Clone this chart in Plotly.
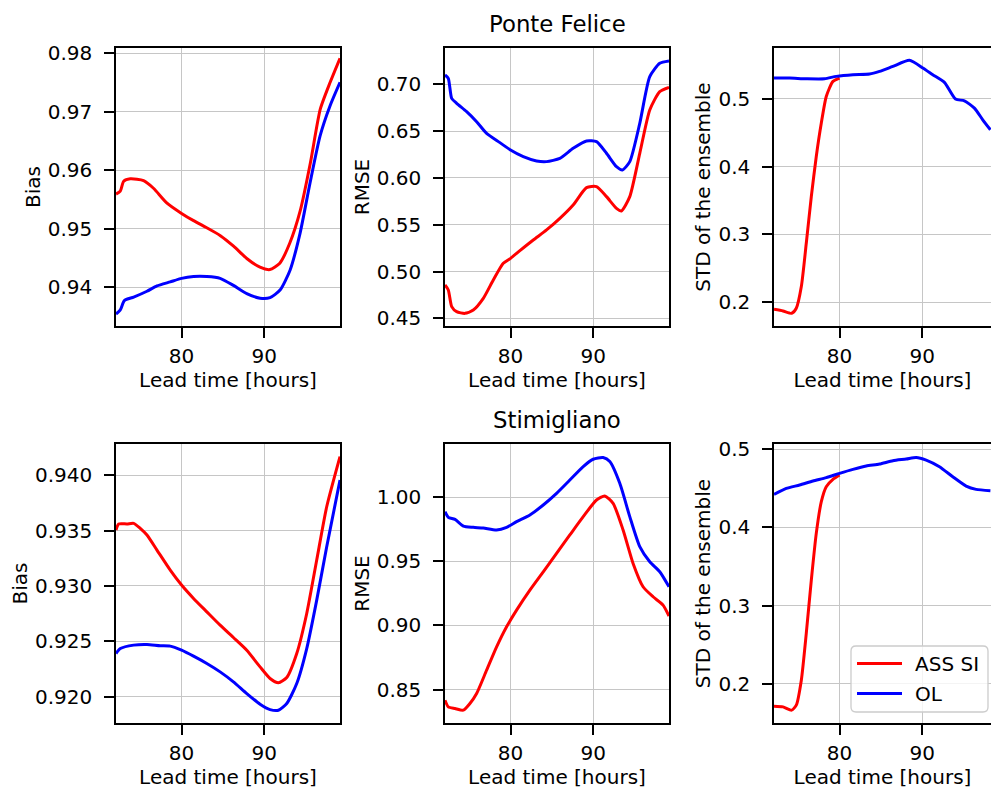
import plotly.graph_objects as go

# ---------------- data: lead time [hours] and scores ----------------
# Ponte Felice - Bias
pf_bias_ass_t = [72.06, 72.58, 72.99, 73.79, 75.4, 76.6, 78.2, 80.0, 81.4, 83.1, 84.7, 86.3,
                 87.9, 89.5, 90.7, 91.9, 93.1, 94.4, 95.6, 96.8, 98.0, 99.19]
pf_bias_ass = [0.9559, 0.9564, 0.9581, 0.9585, 0.9582, 0.9569, 0.9544, 0.9526, 0.9514, 0.9501,
               0.9488, 0.9470, 0.9449, 0.9434, 0.9430, 0.9441, 0.9475, 0.9532, 0.9612, 0.9704,
               0.9750, 0.9791]
pf_bias_ol_t = [72.06, 72.58, 73.07, 74.20, 75.81, 77.02, 78.63, 80.0, 81.45, 83.06, 84.67,
                86.28, 87.90, 89.51, 90.72, 91.93, 93.14, 94.35, 95.56, 96.77, 97.99, 99.19]
pf_bias_ol = [0.9354, 0.9361, 0.9377, 0.9383, 0.9393, 0.9402, 0.9409, 0.9415, 0.9418, 0.9418,
              0.9415, 0.9403, 0.9389, 0.9381, 0.9382, 0.9395, 0.9429, 0.9492, 0.9578, 0.9658,
              0.9710, 0.9750]

# Ponte Felice - RMSE
pf_rmse_ass_t = [72.06, 72.46, 72.87, 73.47, 74.48, 75.49, 76.70, 77.91, 79.12, 80.0, 81.13,
                 82.75, 84.36, 85.97, 87.58, 89.20, 90.41, 91.62, 92.83, 93.43, 94.44, 95.65,
                 96.86, 98.07, 99.19]
pf_rmse_ass = [0.4856, 0.4803, 0.4625, 0.4571, 0.4553, 0.4589, 0.4714, 0.4910, 0.5088, 0.5141,
               0.5223, 0.5337, 0.5444, 0.5568, 0.5711, 0.5896, 0.5907, 0.5800, 0.5675, 0.5647,
               0.5800, 0.6263, 0.6726, 0.6922, 0.6968]
pf_rmse_ol_t = [72.06, 72.46, 72.87, 73.47, 74.68, 75.89, 77.10, 78.71, 80.0, 81.54, 83.15,
                84.36, 85.97, 87.58, 89.20, 90.41, 91.62, 92.83, 93.55, 94.44, 95.65, 96.86,
                98.07, 99.19]
pf_rmse_ol = [0.7100, 0.7064, 0.6850, 0.6797, 0.6708, 0.6601, 0.6476, 0.6377, 0.6298, 0.6227,
              0.6181, 0.6174, 0.6209, 0.6316, 0.6395, 0.6387, 0.6263, 0.6120, 0.6085, 0.6174,
              0.6583, 0.7082, 0.7224, 0.7249]

# Ponte Felice - ensemble spread
pf_std_ass_t = [72.06, 73.15, 74.2, 74.76, 75.37, 75.97, 76.58, 77.18, 77.79, 78.39, 79.2, 80.0]
pf_std_ass = [0.1896, 0.1872, 0.1837, 0.1911, 0.2231, 0.2870, 0.3559, 0.4149, 0.4641, 0.5034,
              0.5256, 0.5305]
pf_std_ol_t = [72.06, 73.96, 75.97, 78.19, 79.6, 81.62, 83.63, 84.84, 86.46, 88.47, 90.08,
               91.29, 92.7, 94.04, 95.12, 96.33, 97.34, 98.27]
pf_std_ol = [0.5305, 0.5305, 0.5295, 0.5295, 0.5330, 0.5354, 0.5364, 0.5403, 0.5477, 0.5566,
             0.5453, 0.5354, 0.5241, 0.4995, 0.4970, 0.4862, 0.4690, 0.4543]

# Stimigliano - Bias
st_bias_ass_t = [72.06, 72.38, 73.39, 74.2, 75.0, 75.81, 77.02, 78.63, 80.0, 81.45, 83.06,
                 84.67, 86.28, 87.90, 89.51, 90.72, 91.73, 92.74, 93.95, 95.16, 96.37, 97.58,
                 99.19]
st_bias_ass = [0.93505, 0.93560, 0.93560, 0.93566, 0.93520, 0.93460, 0.93324, 0.93143, 0.93008,
               0.92887, 0.92766, 0.92646, 0.92534, 0.92419, 0.92268, 0.92163, 0.92124, 0.92172,
               0.92389, 0.92751, 0.93234, 0.93716, 0.94169]
st_bias_ol_t = [72.06, 72.58, 74.2, 75.81, 77.42, 78.63, 80.0, 81.45, 83.06, 84.67, 86.28,
                87.90, 89.51, 90.72, 91.73, 92.74, 93.95, 95.16, 96.37, 97.58, 99.19]
st_bias_ol = [0.92389, 0.92434, 0.92465, 0.92471, 0.92459, 0.92456, 0.92419, 0.92365, 0.92299,
              0.92223, 0.92133, 0.92027, 0.91931, 0.91882, 0.91876, 0.91937, 0.92118, 0.92434,
              0.92872, 0.93354, 0.93958]

# Stimigliano - RMSE
st_rmse_ass_t = [72.06, 72.46, 73.27, 74.28, 75.08, 75.89, 77.10, 78.31, 79.52, 80.73, 82.34,
                 83.96, 85.57, 87.18, 88.80, 90.41, 91.41, 92.42, 93.63, 94.84, 96.05, 97.26,
                 98.47, 99.19]
st_rmse_ass = [0.8417, 0.8365, 0.8352, 0.8339, 0.8391, 0.8469, 0.8651, 0.8833, 0.8990, 0.9120,
               0.9276, 0.9419, 0.9563, 0.9706, 0.9849, 0.9979, 1.0010, 0.9953, 0.9745, 0.9484,
               0.9302, 0.9224, 0.9159, 0.9073]
st_rmse_ol_t = [72.06, 72.46, 73.27, 74.28, 75.49, 76.70, 78.31, 79.52, 80.73, 82.34, 83.96,
                85.57, 87.18, 88.80, 90.0, 91.21, 92.02, 93.23, 94.44, 95.65, 96.86, 98.07, 99.19]
st_rmse_ol = [0.9888, 0.9844, 0.9828, 0.9776, 0.9766, 0.9760, 0.9745, 0.9766, 0.9810, 0.9862,
              0.9940, 1.0031, 1.0135, 1.0240, 1.0297, 1.0310, 1.0279, 1.0109, 0.9849, 0.9615,
              0.9497, 0.9419, 0.9302]

# Stimigliano - ensemble spread
st_std_ass_t = [72.06, 73.15, 74.2, 74.76, 75.37, 75.97, 76.58, 77.18, 77.79, 78.39, 79.2, 80.0]
st_std_ass = [0.1715, 0.1706, 0.1664, 0.1728, 0.2047, 0.2644, 0.3326, 0.3922, 0.4327, 0.4519,
              0.4612, 0.4668]
st_std_ol_t = [72.06, 73.55, 75.16, 76.78, 78.39, 80.0, 81.62, 83.23, 84.84, 86.46, 88.07,
               89.28, 90.49, 92.10, 93.71, 95.33, 96.54, 98.27]
st_std_ol = [0.4421, 0.4497, 0.4540, 0.4591, 0.4634, 0.4689, 0.4740, 0.4783, 0.4808, 0.4851,
             0.4872, 0.4893, 0.4859, 0.4774, 0.4646, 0.4527, 0.4484, 0.4467]

station_titles = ["Ponte Felice", "Stimigliano"]
y_titles = ["Bias", "RMSE", "STD of the ensemble"]
x_title = "Lead time [hours]"
x_ticks = [80, 90]
series_names = ["ASS SI", "OL"]
series_colors = ["#ff0000", "#0000ff"]

panels = [
    # (ass_t, ass, ol_t, ol, y range, y ticks, tick format)
    (pf_bias_ass_t, pf_bias_ass, pf_bias_ol_t, pf_bias_ol, [0.93336, 0.98086],
     [0.94, 0.95, 0.96, 0.97, 0.98], ".2f"),
    (pf_rmse_ass_t, pf_rmse_ass, pf_rmse_ol_t, pf_rmse_ol, [0.4418, 0.7388],
     [0.45, 0.50, 0.55, 0.60, 0.65, 0.70], ".2f"),
    (pf_std_ass_t, pf_std_ass, pf_std_ol_t, pf_std_ol, [0.165, 0.5748],
     [0.2, 0.3, 0.4, 0.5], ".1f"),
    (st_bias_ass_t, st_bias_ass, st_bias_ol_t, st_bias_ol, [0.91761, 0.94283],
     [0.920, 0.925, 0.930, 0.935, 0.940], ".3f"),
    (st_rmse_ass_t, st_rmse_ass, st_rmse_ol_t, st_rmse_ol, [0.8239, 1.0416],
     [0.85, 0.90, 0.95, 1.00], ".2f"),
    (st_std_ass_t, st_std_ass, st_std_ol_t, st_std_ol, [0.15, 0.5064],
     [0.2, 0.3, 0.4, 0.5], ".1f"),
]

# ---------------- layout geometry (pixels) ----------------
W, H = 991, 790
col_left = [116, 445, 774]
col_right = [340, 669, 991]
row_top = [48, 444]
row_bottom = [326, 723]
px_per_hour = 224 / (99.19 - 72.06)
x_start = 72.06

FONT = "DejaVu Sans"
FS = 20
TITLE_FS = 22.8
LW = 3.0


def px(xp):
    return xp / W


def py(yp):
    return (H - yp) / H


fig = go.Figure()
layout_axes = {}

for i, (at, av, ot, ov, yr, yt, yfmt) in enumerate(panels):
    r, c = divmod(i, 3)
    n = i + 1
    xa = "x" if n == 1 else f"x{n}"
    ya = "y" if n == 1 else f"y{n}"
    for t, v, name, color in ((at, av, series_names[0], series_colors[0]),
                              (ot, ov, series_names[1], series_colors[1])):
        fig.add_trace(go.Scatter(
            x=t, y=v, mode="lines", name=name,
            line=dict(color=color, width=LW, shape="spline", smoothing=0.6),
            xaxis=xa, yaxis=ya, showlegend=False,
        ))
    x_end = x_start + (col_right[c] - col_left[c]) / px_per_hour
    last_col = c == 2
    common = dict(
        ticks="outside", ticklen=10, tickwidth=1.5, tickcolor="black",
        showline=True, linecolor="black", linewidth=1.5,
        showgrid=True, gridcolor="#c6c6c6", gridwidth=1.4, zeroline=False,
        tickfont=dict(family=FONT, size=FS, color="black"),
        automargin=False, fixedrange=True,
    )
    layout_axes[f"xaxis{'' if n == 1 else n}"] = dict(
        domain=[px(col_left[c]), px(col_right[c])],
        anchor=ya, range=[x_start, x_end], tickvals=x_ticks, mirror=True,
        ticklabelstandoff=1,
        title=dict(text=x_title, font=dict(family=FONT, size=FS, color="black"), standoff=6),
        **common,
    )
    layout_axes[f"yaxis{'' if n == 1 else n}"] = dict(
        domain=[py(row_bottom[r]), py(row_top[r])],
        anchor=xa, range=yr, tickvals=yt, tickformat=yfmt,
        mirror=False if last_col else True,
        ticklabelstandoff=8,
        title=dict(text=y_titles[c], font=dict(family=FONT, size=FS, color="black"), standoff=2),
        **common,
    )

annotations = []
for r, title in enumerate(station_titles):
    annotations.append(dict(
        text=title, xref="paper", yref="paper",
        x=px((col_left[1] + col_right[1]) / 2), y=py(row_top[r] - 9),
        xanchor="center", yanchor="bottom", showarrow=False,
        font=dict(family=FONT, size=TITLE_FS, color="black"),
    ))

# legend box drawn inside the lower-right panel
shapes = []
lx0, ly0, lx1, ly1, rad = 851, 646, 988, 712, 5
shapes.append(dict(
    type="path", xref="paper", yref="paper", layer="above",
    path=(f"M {px(lx0 + rad)},{py(ly0)} L {px(lx1 - rad)},{py(ly0)} "
          f"Q {px(lx1)},{py(ly0)} {px(lx1)},{py(ly0 + rad)} "
          f"L {px(lx1)},{py(ly1 - rad)} Q {px(lx1)},{py(ly1)} {px(lx1 - rad)},{py(ly1)} "
          f"L {px(lx0 + rad)},{py(ly1)} Q {px(lx0)},{py(ly1)} {px(lx0)},{py(ly1 - rad)} "
          f"L {px(lx0)},{py(ly0 + rad)} Q {px(lx0)},{py(ly0)} {px(lx0 + rad)},{py(ly0)} Z"),
    fillcolor="rgba(255,255,255,0.8)", line=dict(color="#cccccc", width=1.3),
))
for k, (name, color) in enumerate(zip(series_names, series_colors)):
    yk = 663.5 + 30 * k
    shapes.append(dict(
        type="line", xref="paper", yref="paper", layer="above",
        x0=px(857), x1=px(902), y0=py(yk), y1=py(yk),
        line=dict(color=color, width=LW),
    ))
    annotations.append(dict(
        text=name, xref="paper", yref="paper", x=px(913), y=py(yk),
        xanchor="left", yanchor="middle", showarrow=False,
        font=dict(family=FONT, size=FS, color="black"),
    ))

fig.update_layout(
    width=W, height=H,
    margin=dict(l=0, r=0, t=0, b=0),
    paper_bgcolor="white", plot_bgcolor="white",
    font=dict(family=FONT, size=FS, color="black"),
    annotations=annotations, shapes=shapes,
    showlegend=False,
    **layout_axes,
)

fig.write_html("out.html", config={"displayModeBar": False})
